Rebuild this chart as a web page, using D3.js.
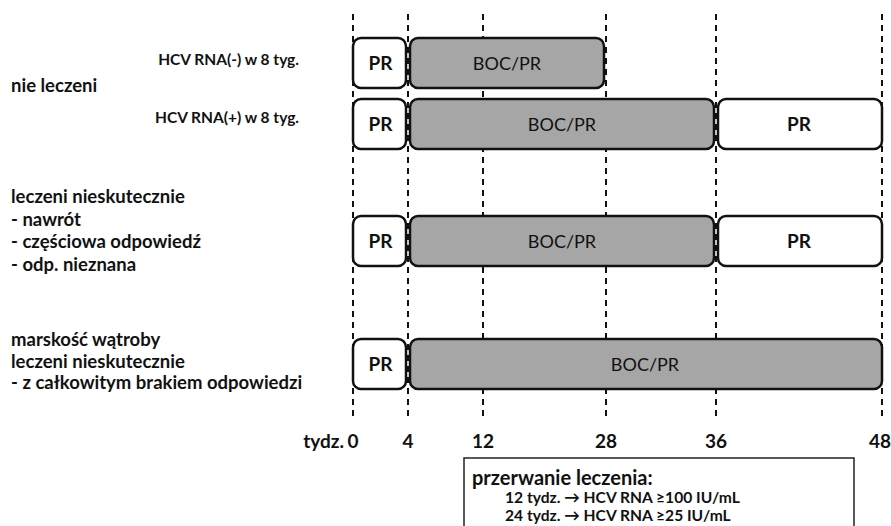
<!DOCTYPE html>
<html>
<head>
<meta charset="utf-8">
<script src="https://cdn.jsdelivr.net/npm/d3@7"></script>
<style>
  body { margin: 0; background: #fff; }
  svg text { font-family: Lato, "Noto Sans", sans-serif; fill: #111; }
</style>
</head>
<body>
<div id="chart"></div>
<script>
// week ticks on the timeline
var weeks = [0, 4, 12, 28, 36, 48];
var weekLabels = ["0", "4", "12", "28", "36", "48"];

// treatment rows: start week, end week, label
var rowNames = ["rna-", "rna+", "nieskut", "marskosc"];
var row1 = [[0, 4, "PR"], [4, 28, "BOC/PR"]];
var row2 = [[0, 4, "PR"], [4, 36, "BOC/PR"], [36, 48, "PR"]];
var row3 = [[0, 4, "PR"], [4, 36, "BOC/PR"], [36, 48, "PR"]];
var row4 = [[0, 4, "PR"], [4, 48, "BOC/PR"]];
var rows = [row1, row2, row3, row4];

var groupLabels = [
  ["nie leczeni"],
  ["leczeni nieskutecznie", "- nawrót", "- częściowa odpowiedź", "- odp. nieznana"],
  ["marskość wątroby", "leczeni nieskutecznie", "- z całkowitym brakiem odpowiedzi"]
];
var subLabels = ["HCV RNA(-) w 8 tyg.", "HCV RNA(+) w 8 tyg."];
var noteLines = ["przerwanie leczenia:", "12 tydz. \u2192 HCV RNA \u2265100 IU/mL", "24 tydz. \u2192 HCV RNA \u226525 IU/mL"];

var width = 891, height = 526;

var svg = d3.select("#chart")
  .append("svg")
  .attr("width", width)
  .attr("height", height);

// the time axis in the original is not linear, so piecewise scale
var x = d3.scaleLinear()
  .domain(weeks)
  .range([353, 408, 483, 606, 716, 882]);

// row top positions
var y = d3.scaleOrdinal()
  .domain(rowNames)
  .range([38, 99, 216, 339]);
var rowH = 50;

// dashed week lines
svg.append("g").selectAll("line")
  .data(weeks)
  .enter()
  .append("line")
  .attr("x1", d => x(d))
  .attr("x2", d => x(d))
  .attr("y1", 14)
  .attr("y2", 416)
  .attr("stroke", "#111")
  .attr("stroke-width", 2)
  .attr("stroke-dasharray", "6,5");

// treatment boxes
rows.forEach(function(segs, i) {
  var g = svg.append("g").attr("transform", `translate(0, ${y(rowNames[i])})`);
  var seg = g.selectAll("g")
    .data(segs)
    .enter()
    .append("g");

  seg.append("rect")
    .attr("x", d => x(d[0]) + (d[0] == 0 ? 0 : 2))
    .attr("y", 0)
    .attr("width", d => x(d[1]) - x(d[0]) - (d[0] == 0 ? 2 : 4) + (d[1] == 48 ? 2 : 0))
    .attr("height", rowH)
    .attr("rx", 8)
    .attr("fill", d => d[2] == "PR" ? "#fff" : "#a6a6a6")
    .attr("stroke", "#111")
    .attr("stroke-width", 2.5);

  seg.append("text")
    .attr("x", d => (x(d[0]) + x(d[1])) / 2)
    .attr("y", rowH / 2 + 7)
    .attr("text-anchor", "middle")
    .attr("font-size", d => d[2] == "PR" ? 19 : 18)
    .attr("font-weight", d => d[2] == "PR" ? "bold" : "normal")
    .text(d => d[2]);
});

// small labels next to the first two rows
svg.append("g").selectAll("text")
  .data(subLabels)
  .enter()
  .append("text")
  .attr("x", 299)
  .attr("y", (d, i) => [65, 123][i])
  .attr("text-anchor", "end")
  .attr("font-size", 15.5)
  .attr("font-weight", "bold")
  .text(d => d);

// group labels on the left
var groupBase = [92, 203, 346];
groupLabels.forEach(function(lines, i) {
  svg.append("g").selectAll("text")
    .data(lines)
    .enter()
    .append("text")
    .attr("x", 11)
    .attr("y", (d, j) => groupBase[i] + j * (i == 2 ? 21.5 : 22.5))
    .attr("font-size", 18.5)
    .attr("font-weight", "bold")
    .text(d => d);
});

// week tick labels
svg.append("g").selectAll("text")
  .data(weekLabels)
  .enter()
  .append("text")
  .attr("x", (d, i) => x(weeks[i]))
  .attr("y", 448)
  .attr("text-anchor", (d, i) => i == weeks.length - 1 ? "end" : "middle")
  .attr("dx", (d, i) => i == weeks.length - 1 ? 9 : 0)
  .attr("font-size", 19)
  .attr("font-weight", "bold")
  .text(d => d);

svg.append("text")
  .attr("x", x(0) - 9)
  .attr("y", 448)
  .attr("text-anchor", "end")
  .attr("font-size", 19)
  .attr("font-weight", "bold")
  .text("tydz.");

// note box at the bottom
svg.append("rect")
  .attr("x", 464)
  .attr("y", 458)
  .attr("width", 390)
  .attr("height", 90)
  .attr("fill", "#fff")
  .attr("stroke", "#222")
  .attr("stroke-width", 1.5);

svg.append("g").selectAll("text")
  .data(noteLines)
  .enter()
  .append("text")
  .attr("x", (d, i) => i == 0 ? 472 : 505)
  .attr("y", (d, i) => [485, 503, 521][i])
  .attr("font-size", (d, i) => i == 0 ? 20 : 15.6)
  .attr("font-weight", "bold")
  .text(d => d);
</script>
</body>
</html>
